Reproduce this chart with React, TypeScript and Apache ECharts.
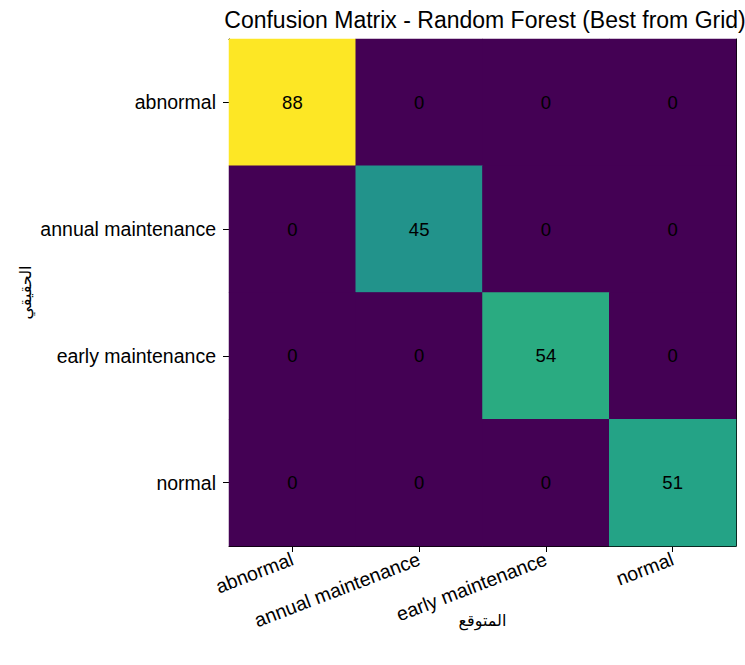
import React, { useEffect, useRef } from "react";
import * as echarts from "echarts";

const predictedLabels = ["abnormal", "annual maintenance", "early maintenance", "normal"];
const actualLabels = ["abnormal", "annual maintenance", "early maintenance", "normal"];
const rowAbnormal = [88, 0, 0, 0];
const rowAnnual = [0, 45, 0, 0];
const rowEarly = [0, 0, 54, 0];
const rowNormal = [0, 0, 0, 51];
const matrixRows = [rowAbnormal, rowAnnual, rowEarly, rowNormal];
const viridis = ["#440154", "#482878", "#3e4989", "#31688e", "#26828e", "#1f9e89", "#35b779", "#6ece58", "#b5de2b", "#fde725"];

export default function App() {
  const ref = useRef<HTMLDivElement>(null);
  useEffect(() => {
    if (!ref.current) return;
    const chart = echarts.init(ref.current, null, { renderer: "svg" });
    const data: number[][] = [];
    matrixRows.forEach((row, r) => row.forEach((v, c) => data.push([c, r, v])));
    const font = "Liberation Sans, Arial, sans-serif";
    chart.setOption({
      animation: false,
      backgroundColor: "#ffffff",
      title: {
        text: "Confusion Matrix - Random Forest (Best from Grid)",
        left: 480,
        top: 3,
        textAlign: "center",
        textStyle: { fontFamily: font, fontSize: 23, fontWeight: "normal", color: "#000" },
      },
      grid: { left: 229, top: 39, width: 507, height: 507, show: true, backgroundColor: viridis[0], borderWidth: 0 },
      xAxis: [
        {
          type: "category",
          data: predictedLabels,
          position: "bottom",
          name: "المتوقع",
          nameLocation: "middle",
          nameGap: 66,
          nameMoveOverlap: false,
          nameTextStyle: { fontFamily: "DejaVu Sans", fontSize: 16, color: "#000" },
          axisLine: { show: true, lineStyle: { color: "#000", width: 1 } },
          axisTick: { show: true, alignWithLabel: true, length: 6, lineStyle: { color: "#000" } },
          axisLabel: { rotate: 21, fontFamily: font, fontSize: 19.5, color: "#000", margin: 12, interval: 0 },
          splitLine: { show: false },
        },
        {
          type: "category",
          data: predictedLabels,
          position: "top",
          axisLine: { show: true, lineStyle: { color: "#000", width: 1 } },
          axisTick: { show: false },
          axisLabel: { show: false },
        },
      ],
      yAxis: [
        {
          type: "category",
          data: actualLabels,
          inverse: true,
          position: "left",
          name: "الحقيقي",
          nameLocation: "middle",
          nameGap: 196,
          nameMoveOverlap: false,
          nameTextStyle: { fontFamily: "DejaVu Sans", fontSize: 16, color: "#000" },
          axisLine: { show: true, lineStyle: { color: "#000", width: 1 } },
          axisTick: { show: true, alignWithLabel: true, length: 6, lineStyle: { color: "#000" } },
          axisLabel: { fontFamily: font, fontSize: 19.5, color: "#000", margin: 13, interval: 0 },
          splitLine: { show: false },
        },
        {
          type: "category",
          data: actualLabels,
          inverse: true,
          position: "right",
          axisLine: { show: true, lineStyle: { color: "#000", width: 1 } },
          axisTick: { show: false },
          axisLabel: { show: false },
        },
      ],
      visualMap: {
        show: false,
        min: 0,
        max: 88,
        calculable: false,
        inRange: { color: viridis },
      },
      series: [
        {
          type: "heatmap",
          data,
          xAxisIndex: 0,
          yAxisIndex: 0,
          label: { show: true, fontFamily: font, fontSize: 18.5, color: "#000" },
          itemStyle: { borderWidth: 0 },
          emphasis: { disabled: true },
        },
      ],
    });
    return () => chart.dispose();
  }, []);
  return <div ref={ref} style={{ position: "fixed", left: 0, top: 0, width: 745, height: 665 }} />;
}
